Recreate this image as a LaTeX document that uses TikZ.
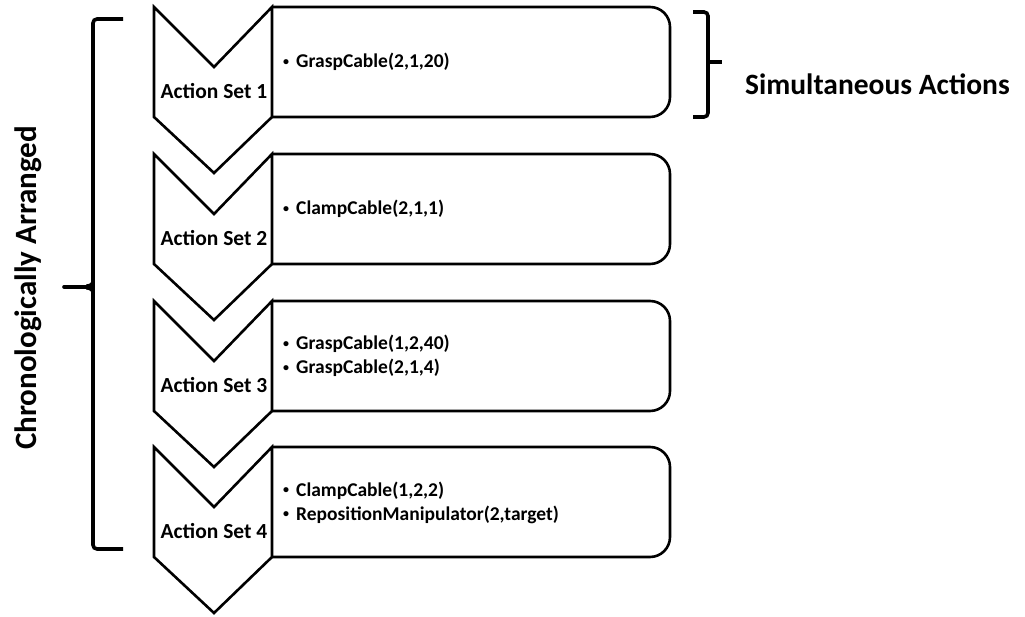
\documentclass[tikz,border=0pt]{standalone}
\usepackage{fontspec}
\setmainfont{Carlito}
\newcommand\mybul{\makebox[13pt][l]{\raisebox{0.28ex}{\fontsize{12}{12}\selectfont\textbullet}}}
\begin{document}
\begin{tikzpicture}[x=1pt,y=-1pt,
  outline/.style={draw=black,line width=2.6pt,line join=miter},
  brk/.style={draw=black,line width=3.6pt,rounded corners=4pt},
  setlabel/.style={font=\bfseries\fontsize{21.5}{24}\selectfont,inner sep=0pt},
  item/.style={font=\bfseries\fontsize{19.5}{24}\selectfont,inner sep=0pt,anchor=west,align=left},
  side/.style={font=\bfseries\fontsize{29.5}{32}\selectfont,inner sep=0pt},
  vside/.style={font=\bfseries\fontsize{31}{34}\selectfont,inner sep=0pt}]
\useasboundingbox (0,0) rectangle (1025,617);
\foreach \t/\n in {7/1,154/2,301/3,447/4}{
  \draw[outline,rounded corners=20pt] (272,\t) -- (670,\t) -- (670,\t+110) -- (272,\t+110);
  \draw[outline] (154,\t) -- (214,\t+60) -- (272,\t) -- (272,\t+110) -- (214,\t+166) -- (154,\t+110) -- cycle;
  \node[setlabel] (set\n) at (214,\t+84) {Action Set \n};
}
\node[item] (b1) at (283,62) {\mybul GraspCable(2,1,20)};
\node[item] (b2) at (283,209) {\mybul ClampCable(2,1,1)};
\node[item] (b3) at (283,356) {\mybul GraspCable(1,2,40)\\\mybul GraspCable(2,1,4)};
\node[item] (b4) at (283,503) {\mybul ClampCable(1,2,2)\\\mybul RepositionManipulator(2,target)};
% right brace
\draw[brk] (693,12) -- (708,12) -- (708,117) -- (693,117);
\draw[draw=black,line width=3.6pt] (708,62) -- (722,62);
\node[side,anchor=west] (sim) at (745,84) {Simultaneous Actions};
% left bracket
\draw[brk] (123,19) -- (93,19) -- (93,549) -- (123,549);
\draw[draw=black,line width=3.6pt,line cap=round] (64,287) -- (86,287);
\fill (86,284.5) .. controls (91,284.5) and (93,281) .. (93,275) -- (93,299) .. controls (93,293) and (91,289.5) .. (86,289.5) -- cycle;
\node[vside,rotate=90] (chrono) at (28,288) {Chronologically Arranged};
\end{tikzpicture}
\end{document}
